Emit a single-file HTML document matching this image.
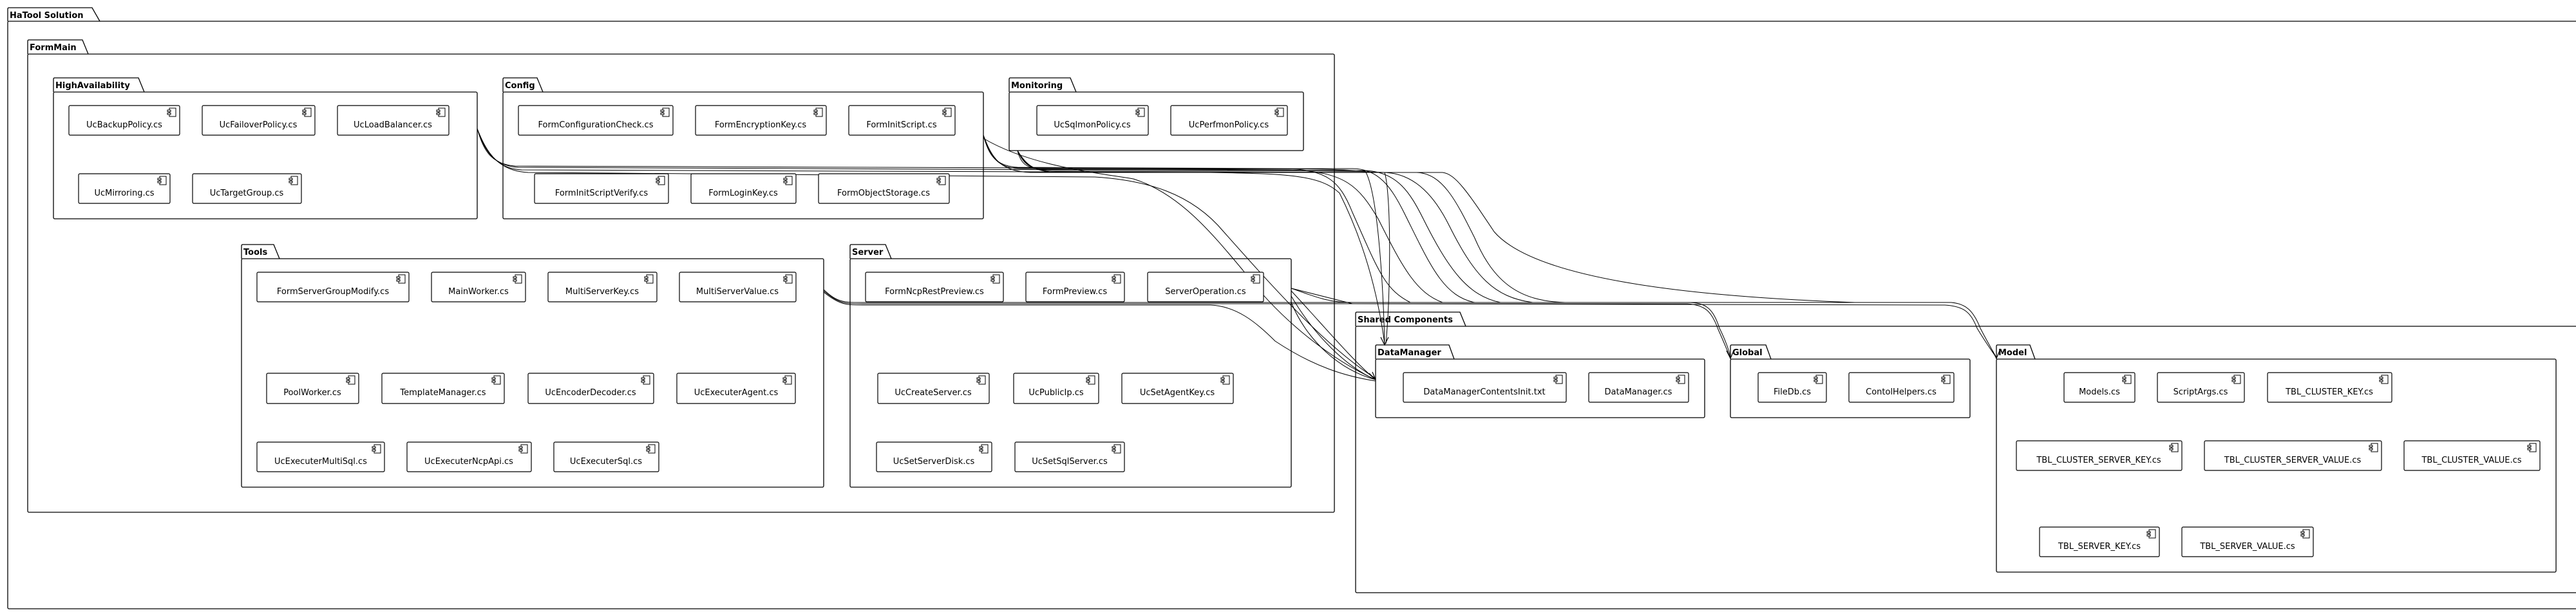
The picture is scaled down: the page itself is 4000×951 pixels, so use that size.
<!DOCTYPE html>
<html><head><meta charset="utf-8"><style>
html,body{margin:0;padding:0;background:#fff;}
svg{display:block;}
text{font-family:"DejaVu Sans","Liberation Sans",sans-serif;font-size:13px;fill:#000;}
.pk{font-weight:bold;}
</style></head><body>
<svg width="4000" height="951" viewBox="0 0 4000 951" xmlns="http://www.w3.org/2000/svg">
<g fill="none" stroke="#000" stroke-width="1.3">
<path d="M12,33 L12,14 Q12,12 14,12 L143,12 L155,33"/><rect x="12" y="33" width="4000" height="913" rx="2"/>
<path d="M43,84 L43,64 Q43,62 45,62 L128,62 L137,84"/><rect x="43" y="84" width="2029" height="712" rx="2"/>
<path d="M83,143 L83,123 Q83,121 85,121 L215,121 L224,143"/><rect x="83" y="143" width="658" height="197" rx="2"/>
<path d="M781,143 L781,123 Q781,121 783,121 L834,121 L843,143"/><rect x="781" y="143" width="746" height="197" rx="2"/>
<path d="M1567,143 L1567,123 Q1567,121 1569,121 L1662,121 L1671,143"/><rect x="1567" y="143" width="457" height="91" rx="2"/>
<path d="M375,402 L375,382 Q375,380 377,380 L425,380 L434,402"/><rect x="375" y="402" width="904" height="355" rx="2"/>
<path d="M1320,402 L1320,382 Q1320,380 1322,380 L1375,380 L1384,402"/><rect x="1320" y="402" width="685" height="355" rx="2"/>
<path d="M2105,507 L2105,487 Q2105,485 2107,485 L2267,485 L2276,507"/><rect x="2105" y="507" width="1910" height="414" rx="2"/>
<path d="M2136,558 L2136,538 Q2136,536 2138,536 L2250,536 L2258,558"/><rect x="2136" y="558" width="511" height="91" rx="2"/>
<path d="M2687,558 L2687,538 Q2687,536 2689,536 L2742,536 L2750,558"/><rect x="2687" y="558" width="372" height="91" rx="2"/>
<path d="M3100,558 L3100,538 Q3100,536 3102,536 L3152,536 L3160,558"/><rect x="3100" y="558" width="869" height="331" rx="2"/>
</g>
<g>
<text class="pk" x="15" y="28">HaTool Solution</text>
<text class="pk" x="46" y="78">FormMain</text>
<text class="pk" x="86" y="137">HighAvailability</text>
<text class="pk" x="784" y="137">Config</text>
<text class="pk" x="1570" y="137">Monitoring</text>
<text class="pk" x="378" y="396">Tools</text>
<text class="pk" x="1323" y="396">Server</text>
<text class="pk" x="2108" y="501">Shared Components</text>
<text class="pk" x="2139" y="552">DataManager</text>
<text class="pk" x="2690" y="552">Global</text>
<text class="pk" x="3103" y="552">Model</text>
</g>
<defs>
<g id="ic" fill="#fff" stroke="#000" stroke-width="1"><rect x="0" y="0" width="10" height="13"/><rect x="-3" y="3" width="5" height="2.5"/><rect x="-3" y="7.5" width="5" height="2.5"/></g>
</defs>
<!-- edges -->
<g fill="none" stroke="#000" stroke-width="1">
<path d="M741,200 C750,230 760,255 800,258 L1900,262 C2040,262 2080,263 2120,266 C2140,300 2148,450 2150,534"/>
<path d="M741,200 C752,232 765,258 805,260 L1900,265 C2050,265 2100,266 2150,268 C2160,300 2160,450 2152,534"/>
<path d="M741,200 C755,235 770,262 810,264 L1880,268 C2000,270 2050,272 2080,300 C2120,380 2140,460 2150,534"/>
<path d="M1527,210 C1535,240 1545,258 1580,260 L2000,262 C2060,265 2080,280 2100,330 C2140,420 2150,450 2190,470"/>
<path d="M1527,210 C1537,242 1548,262 1585,262 L2000,264 C2090,266 2110,290 2140,340 C2180,420 2200,455 2240,470"/>
<path d="M1580,234 C1585,255 1595,262 1620,263 L2100,262 C2140,262 2160,290 2180,330 C2220,410 2240,460 2290,470"/>
<path d="M1580,234 C1590,256 1600,264 1630,264 L2120,265 C2170,267 2190,300 2210,340 C2250,420 2280,460 2330,470"/>
<path d="M1580,234 C1592,257 1603,266 1640,266 L2150,268 C2200,270 2230,310 2250,350 C2290,430 2320,462 2380,470"/>
<path d="M1580,234 C1595,258 1606,268 1650,268 L2200,268 C2240,270 2260,310 2290,370 C2320,440 2360,468 2430,470"/>
<path d="M1527,210 C1540,245 1552,266 1600,268 L2240,268 C2260,270 2280,300 2320,360 C2380,430 2600,460 2880,470"/>
<path d="M741,200 C755,238 775,266 820,268 L1700,275 C1780,280 1850,300 1900,360 C1980,450 2060,540 2136,588"/>
<path d="M1527,215 C1600,258 1700,268 1760,278 C1830,300 1880,360 1930,420 C1990,500 2070,560 2136,590"/>
<path d="M1279,450 C1300,470 1310,470 1340,470 L2620,470 C2650,470 2660,480 2670,510 C2680,530 2686,548 2687,556"/>
<path d="M1279,452 C1302,472 1312,472 1340,472 L2620,472 C2648,474 2658,484 2668,512 C2678,534 2684,550 2687,556"/>
<path d="M2005,448 L2100,472 L3020,474 C3050,476 3060,485 3070,510 C3085,535 3095,548 3100,556"/>
<path d="M2005,448 C2040,460 2060,470 2100,470 L3030,470 C3052,472 3064,482 3075,510 C3088,535 3096,548 3100,556"/>
<path d="M1279,454 C1304,474 1314,474 1340,474 L1880,474 C1920,476 1950,500 1980,530 C2040,570 2090,585 2136,592"/>
<path d="M2005,452 C2050,500 2100,560 2136,590"/>
<path d="M2005,460 C2040,520 2090,570 2136,590"/>
<path d="M2005,470 C2030,530 2080,575 2136,590"/>
</g>
<g fill="#fff" stroke="#000" stroke-width="1.2">
<rect x="107" y="164" width="172" height="46" rx="2"/><rect x="314" y="164" width="175" height="46" rx="2"/><rect x="524" y="164" width="173" height="46" rx="2"/>
<rect x="122" y="270" width="142" height="46" rx="2"/><rect x="299" y="270" width="169" height="46" rx="2"/>
<rect x="805" y="164" width="240" height="46" rx="2"/><rect x="1080" y="164" width="203" height="46" rx="2"/><rect x="1318" y="164" width="165" height="46" rx="2"/>
<rect x="830" y="270" width="208" height="46" rx="2"/><rect x="1073" y="270" width="163" height="46" rx="2"/><rect x="1271" y="270" width="203" height="46" rx="2"/>
<rect x="1610" y="164" width="173" height="46" rx="2"/><rect x="1818" y="164" width="181" height="46" rx="2"/>
<rect x="399" y="423" width="236" height="46" rx="2"/><rect x="670" y="423" width="146" height="46" rx="2"/><rect x="851" y="423" width="169" height="46" rx="2"/><rect x="1055" y="423" width="181" height="46" rx="2"/>
<rect x="414" y="580" width="143" height="47" rx="2"/><rect x="593" y="580" width="190" height="47" rx="2"/><rect x="820" y="580" width="195" height="47" rx="2"/><rect x="1051" y="580" width="184" height="47" rx="2"/>
<rect x="399" y="687" width="198" height="46" rx="2"/><rect x="632" y="687" width="193" height="46" rx="2"/><rect x="860" y="687" width="163" height="46" rx="2"/>
<rect x="1344" y="423" width="214" height="46" rx="2"/><rect x="1593" y="423" width="153" height="46" rx="2"/><rect x="1782" y="423" width="180" height="46" rx="2"/>
<rect x="1363" y="580" width="173" height="47" rx="2"/><rect x="1574" y="580" width="132" height="47" rx="2"/><rect x="1742" y="580" width="173" height="47" rx="2"/>
<rect x="1361" y="687" width="179" height="46" rx="2"/><rect x="1576" y="687" width="170" height="46" rx="2"/>
<rect x="2179" y="579" width="253" height="46" rx="2"/><rect x="2467" y="579" width="155" height="46" rx="2"/>
<rect x="2730" y="579" width="106" height="46" rx="2"/><rect x="2871" y="579" width="163" height="46" rx="2"/>
<rect x="3205" y="579" width="110" height="46" rx="2"/><rect x="3350" y="579" width="135" height="46" rx="2"/><rect x="3521" y="579" width="193" height="46" rx="2"/>
<rect x="3131" y="685" width="257" height="46" rx="2"/><rect x="3423" y="685" width="275" height="46" rx="2"/><rect x="3733" y="685" width="211" height="46" rx="2"/>
<rect x="3167" y="819" width="186" height="46" rx="2"/><rect x="3388" y="819" width="204" height="46" rx="2"/>
</g>
<g>
<use href="#ic" x="263" y="168"/><use href="#ic" x="473" y="168"/><use href="#ic" x="681" y="168"/>
<use href="#ic" x="248" y="274"/><use href="#ic" x="452" y="274"/>
<use href="#ic" x="1029" y="168"/><use href="#ic" x="1267" y="168"/><use href="#ic" x="1467" y="168"/>
<use href="#ic" x="1022" y="274"/><use href="#ic" x="1220" y="274"/><use href="#ic" x="1458" y="274"/>
<use href="#ic" x="1767" y="168"/><use href="#ic" x="1983" y="168"/>
<use href="#ic" x="619" y="427"/><use href="#ic" x="800" y="427"/><use href="#ic" x="1004" y="427"/><use href="#ic" x="1220" y="427"/>
<use href="#ic" x="541" y="584"/><use href="#ic" x="767" y="584"/><use href="#ic" x="999" y="584"/><use href="#ic" x="1219" y="584"/>
<use href="#ic" x="581" y="691"/><use href="#ic" x="809" y="691"/><use href="#ic" x="1007" y="691"/>
<use href="#ic" x="1542" y="427"/><use href="#ic" x="1730" y="427"/><use href="#ic" x="1946" y="427"/>
<use href="#ic" x="1520" y="584"/><use href="#ic" x="1690" y="584"/><use href="#ic" x="1899" y="584"/>
<use href="#ic" x="1524" y="691"/><use href="#ic" x="1730" y="691"/>
<use href="#ic" x="2416" y="583"/><use href="#ic" x="2606" y="583"/>
<use href="#ic" x="2820" y="583"/><use href="#ic" x="3018" y="583"/>
<use href="#ic" x="3299" y="583"/><use href="#ic" x="3469" y="583"/><use href="#ic" x="3698" y="583"/>
<use href="#ic" x="3372" y="689"/><use href="#ic" x="3682" y="689"/><use href="#ic" x="3928" y="689"/>
<use href="#ic" x="3337" y="823"/><use href="#ic" x="3576" y="823"/>
</g>
<g text-anchor="middle">
<text x="193" y="198">UcBackupPolicy.cs</text><text x="401" y="198">UcFailoverPolicy.cs</text><text x="610" y="198">UcLoadBalancer.cs</text>
<text x="193" y="304">UcMirroring.cs</text><text x="383" y="304">UcTargetGroup.cs</text>
<text x="925" y="198">FormConfigurationCheck.cs</text><text x="1181" y="198">FormEncryptionKey.cs</text><text x="1400" y="198">FormInitScript.cs</text>
<text x="934" y="304">FormInitScriptVerify.cs</text><text x="1154" y="304">FormLoginKey.cs</text><text x="1372" y="304">FormObjectStorage.cs</text>
<text x="1696" y="198">UcSqlmonPolicy.cs</text><text x="1908" y="198">UcPerfmonPolicy.cs</text>
<text x="517" y="457">FormServerGroupModify.cs</text><text x="743" y="457">MainWorker.cs</text><text x="935" y="457">MultiServerKey.cs</text><text x="1145" y="457">MultiServerValue.cs</text>
<text x="485" y="614">PoolWorker.cs</text><text x="688" y="614">TemplateManager.cs</text><text x="917" y="614">UcEncoderDecoder.cs</text><text x="1143" y="614">UcExecuterAgent.cs</text>
<text x="498" y="721">UcExecuterMultiSql.cs</text><text x="728" y="721">UcExecuterNcpApi.cs</text><text x="941" y="721">UcExecuterSql.cs</text>
<text x="1451" y="457">FormNcpRestPreview.cs</text><text x="1669" y="457">FormPreview.cs</text><text x="1872" y="457">ServerOperation.cs</text>
<text x="1449" y="614">UcCreateServer.cs</text><text x="1640" y="614">UcPublicIp.cs</text><text x="1828" y="614">UcSetAgentKey.cs</text>
<text x="1450" y="721">UcSetServerDisk.cs</text><text x="1661" y="721">UcSetSqlServer.cs</text>
<text x="2305" y="613">DataManagerContentsInit.txt</text><text x="2544" y="613">DataManager.cs</text>
<text x="2783" y="613">FileDb.cs</text><text x="2952" y="613">ContolHelpers.cs</text>
<text x="3260" y="613">Models.cs</text><text x="3417" y="613">ScriptArgs.cs</text><text x="3617" y="613">TBL_CLUSTER_KEY.cs</text>
<text x="3259" y="719">TBL_CLUSTER_SERVER_KEY.cs</text><text x="3560" y="719">TBL_CLUSTER_SERVER_VALUE.cs</text><text x="3838" y="719">TBL_CLUSTER_VALUE.cs</text>
<text x="3260" y="853">TBL_SERVER_KEY.cs</text><text x="3490" y="853">TBL_SERVER_VALUE.cs</text>
</g>
<g fill="none" stroke="#000" stroke-width="1.2">
<path d="M2144,524 L2150,536 L2156,524"/>
<path d="M2126,580 L2136,590 L2131,578"/>
<path d="M2681,545 L2687,557 L2692,545"/>
<path d="M3094,545 L3100,557 L3105,545"/>
</g>
</svg>
</body></html>
